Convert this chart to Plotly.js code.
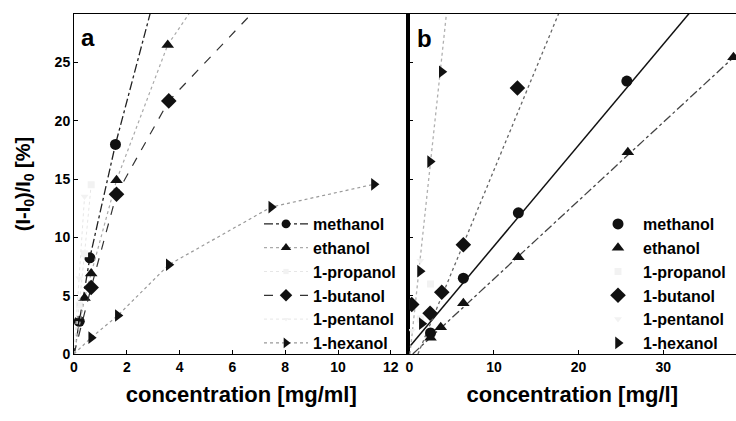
<!DOCTYPE html>
<html><head><meta charset="utf-8">
<script src="https://cdn.plot.ly/plotly-3.0.1.min.js"></script>
<style>html,body{margin:0;padding:0;background:#fff}#chart{width:736px;height:421px}</style>
</head><body><div id="chart"></div>
<script>
const seriesNames = ['methanol', 'ethanol', '1-propanol', '1-butanol', '1-pentanol', '1-hexanol'];

// Panel a: concentration [mg/ml] vs (I-I0)/I0 [%]
const aMethanolX = [0, 0.2, 0.6, 1.57, 3.6];
const aMethanolY = [0, 2.8, 8.25, 17.97, 35.3];
const aEthanolX = [0, 0.4, 0.65, 1.61, 3.55, 7.45];
const aEthanolY = [0, 4.8, 6.9, 14.9, 26.5, 39.4];
const aPropanolX = [0, 0.2, 0.4, 0.65];
const aPropanolY = [0, 4.2, 8.6, 14.5];
const aButanolX = [0, 0.65, 1.61, 3.59, 7.45];
const aButanolY = [0, 5.7, 13.7, 21.7, 30.9];
const aPentanolX = [0, 0.2, 0.4];
const aPentanolY = [0, 6.5, 13.5];
const aHexanolX = [0, 0.65, 1.66, 3.59, 7.47, 11.36];
const aHexanolY = [0, 1.4, 3.3, 7.65, 12.6, 14.55];

// Panel b: concentration [mg/l] vs (I-I0)/I0 [%]
const bMethanolX = [2.5, 6.38, 12.88, 25.7];
const bMethanolY = [1.8, 6.5, 12.1, 23.4];
const bEthanolX = [2.5, 3.71, 6.38, 12.88, 25.82, 38.3];
const bEthanolY = [1.4, 2.3, 4.35, 8.3, 17.3, 25.45];
const bPropanolX = [1.3, 2.5];
const bPropanolY = [3.0, 6.0];
const bButanolX = [0.28, 2.45, 3.83, 6.38, 12.77];
const bButanolY = [4.25, 3.5, 5.3, 9.37, 22.8];
const bPentanolX = [0.3, 1.3];
const bPentanolY = [2.0, 8.0];
const bHexanolX = [1.47, 1.26, 2.45, 3.83];
const bHexanolY = [2.6, 7.1, 16.5, 24.2];
// linear fits in panel b: slope, intercept (null = no fit line drawn)
const bFitSlope = [0.865, 0.671, null, 1.755, null, 6.77];
const bFitIntercept = [0.6, -0.27, null, -1.78, null, -0.5];

const aX = [aMethanolX, aEthanolX, aPropanolX, aButanolX, aPentanolX, aHexanolX];
const aY = [aMethanolY, aEthanolY, aPropanolY, aButanolY, aPentanolY, aHexanolY];
const bX = [bMethanolX, bEthanolX, bPropanolX, bButanolX, bPentanolX, bHexanolX];
const bY = [bMethanolY, bEthanolY, bPropanolY, bButanolY, bPentanolY, bHexanolY];

const symbols = ['circle', 'triangle-up', 'square', 'diamond', 'triangle-down', 'triangle-right'];
const markerColors = ['#111', '#111', '#f2f2f2', '#111', '#f2f2f2', '#111'];
const msize = [11, 11, 7, 12, 7, 11];
const aLine = [
  {color: '#222', dash: 'dashdot', width: 1.3},
  {color: '#aaa', dash: 'dot', width: 1.2},
  {color: '#e6e6e6', dash: 'dot', width: 1},
  {color: '#333', dash: 'dash', width: 1.2},
  {color: '#e6e6e6', dash: 'dot', width: 1},
  {color: '#999', dash: 'dot', width: 1.2}
];
const bLine = [
  {color: '#111', dash: 'solid', width: 1.5},
  {color: '#444', dash: 'dashdot', width: 1.3},
  null,
  {color: '#666', dash: 'dot', width: 1.3},
  null,
  {color: '#b0b0b0', dash: 'dot', width: 1.3}
];

const xRangeA = [0, 12.67];
const xRangeB = [-0.1, 38.6];
const yRange = [0, 29.15];

const traces = [];
seriesNames.forEach((name, i) => {
  traces.push({
    x: aX[i], y: aY[i], name: name, type: 'scatter', mode: 'lines+markers',
    xaxis: 'x', yaxis: 'y', legend: 'legend', legendgroup: 'a' + i,
    line: aLine[i],
    marker: {symbol: symbols[i], color: markerColors[i], opacity: 1, line: {width: 0},
      size: aX[i].map((v, k) => (v === 0 && aY[i][k] === 0) ? 0 : msize[i])},
    hoverinfo: 'x+y+name'
  });
});
seriesNames.forEach((name, i) => {
  if (bFitSlope[i] !== null) {
    const m = bFitSlope[i], c = bFitIntercept[i];
    const x0 = Math.max(0, -c / m);
    const x1 = xRangeB[1];
    traces.push({
      x: [x0, x1], y: [m * x0 + c, m * x1 + c], type: 'scatter', mode: 'lines',
      xaxis: 'x2', yaxis: 'y2', showlegend: false, line: bLine[i], hoverinfo: 'skip'
    });
  }
});
seriesNames.forEach((name, i) => {
  traces.push({
    x: bX[i], y: bY[i], name: name, type: 'scatter', mode: 'markers',
    xaxis: 'x2', yaxis: 'y2', legend: 'legend2', legendgroup: 'b' + i,
    marker: {symbol: symbols[i], color: markerColors[i], size: msize[i], opacity: 1, line: {width: 0}},
    hoverinfo: 'x+y+name'
  });
});

const FONT = 'Liberation Sans, Arial, Helvetica, sans-serif';
const axisCommon = {
  showgrid: false, zeroline: false, showline: true, linecolor: '#000', linewidth: 1,
  ticks: 'inside', ticklen: 4, tickcolor: '#000',
  tickfont: {family: FONT, size: 14, weight: 'bold', color: '#000'}
};
const split = 0.5053;
const layout = {
  width: 736, height: 421,
  margin: {l: 74, r: 0, t: 14, b: 67},
  paper_bgcolor: '#fff', plot_bgcolor: '#fff',
  font: {family: FONT, color: '#000'},
  xaxis: Object.assign({}, axisCommon, {
    domain: [0, split], range: xRangeA, tick0: 0, dtick: 2, anchor: 'y', mirror: true,
    title: {text: 'concentration [mg/ml]', font: {family: FONT, size: 22, weight: 'bold'}, standoff: 12}
  }),
  yaxis: Object.assign({}, axisCommon, {
    domain: [0, 1], range: yRange, tick0: 0, dtick: 5, anchor: 'x', mirror: true,
    title: {text: '(I-I<sub>0</sub>)/I<sub>0</sub> [%]', font: {family: FONT, size: 20, weight: 'bold'}, standoff: 18}
  }),
  xaxis2: Object.assign({}, axisCommon, {
    domain: [split, 1], range: xRangeB, tickvals: [0, 10, 20, 30], anchor: 'y2', mirror: true,
    title: {text: 'concentration [mg/l]', font: {family: FONT, size: 22, weight: 'bold'}, standoff: 12}
  }),
  yaxis2: Object.assign({}, axisCommon, {
    domain: [0, 1], range: yRange, tick0: 0, dtick: 5, anchor: 'x2', linewidth: 2.2,
    showticklabels: false, mirror: false
  }),
  legend: {
    x: (259 - 74) / 662, y: (354 - 207) / 340, xanchor: 'left', yanchor: 'top',
    bgcolor: 'rgba(0,0,0,0)', borderwidth: 0, itemwidth: 44, tracegroupgap: 0,
    traceorder: 'grouped',
    font: {family: FONT, size: 16, weight: 'bold', color: '#000'}
  },
  legend2: {
    x: (593 - 74) / 662, y: (354 - 207) / 340, xanchor: 'left', yanchor: 'top',
    bgcolor: 'rgba(0,0,0,0)', borderwidth: 0, itemwidth: 40, tracegroupgap: 0,
    traceorder: 'grouped',
    font: {family: FONT, size: 16, weight: 'bold', color: '#000'}
  },
  annotations: [
    {text: 'a', xref: 'paper', yref: 'paper', x: (88 - 74) / 662, y: (354 - 38) / 340,
     xanchor: 'center', yanchor: 'middle', showarrow: false,
     font: {family: FONT, size: 24, weight: 'bold', color: '#000'}},
    {text: 'b', xref: 'paper', yref: 'paper', x: (424 - 74) / 662, y: (354 - 39) / 340,
     xanchor: 'center', yanchor: 'middle', showarrow: false,
     font: {family: FONT, size: 24, weight: 'bold', color: '#000'}}
  ],
  showlegend: true
};
Plotly.newPlot('chart', traces, layout, {displayModeBar: false, staticPlot: true});
</script>
</body></html>
